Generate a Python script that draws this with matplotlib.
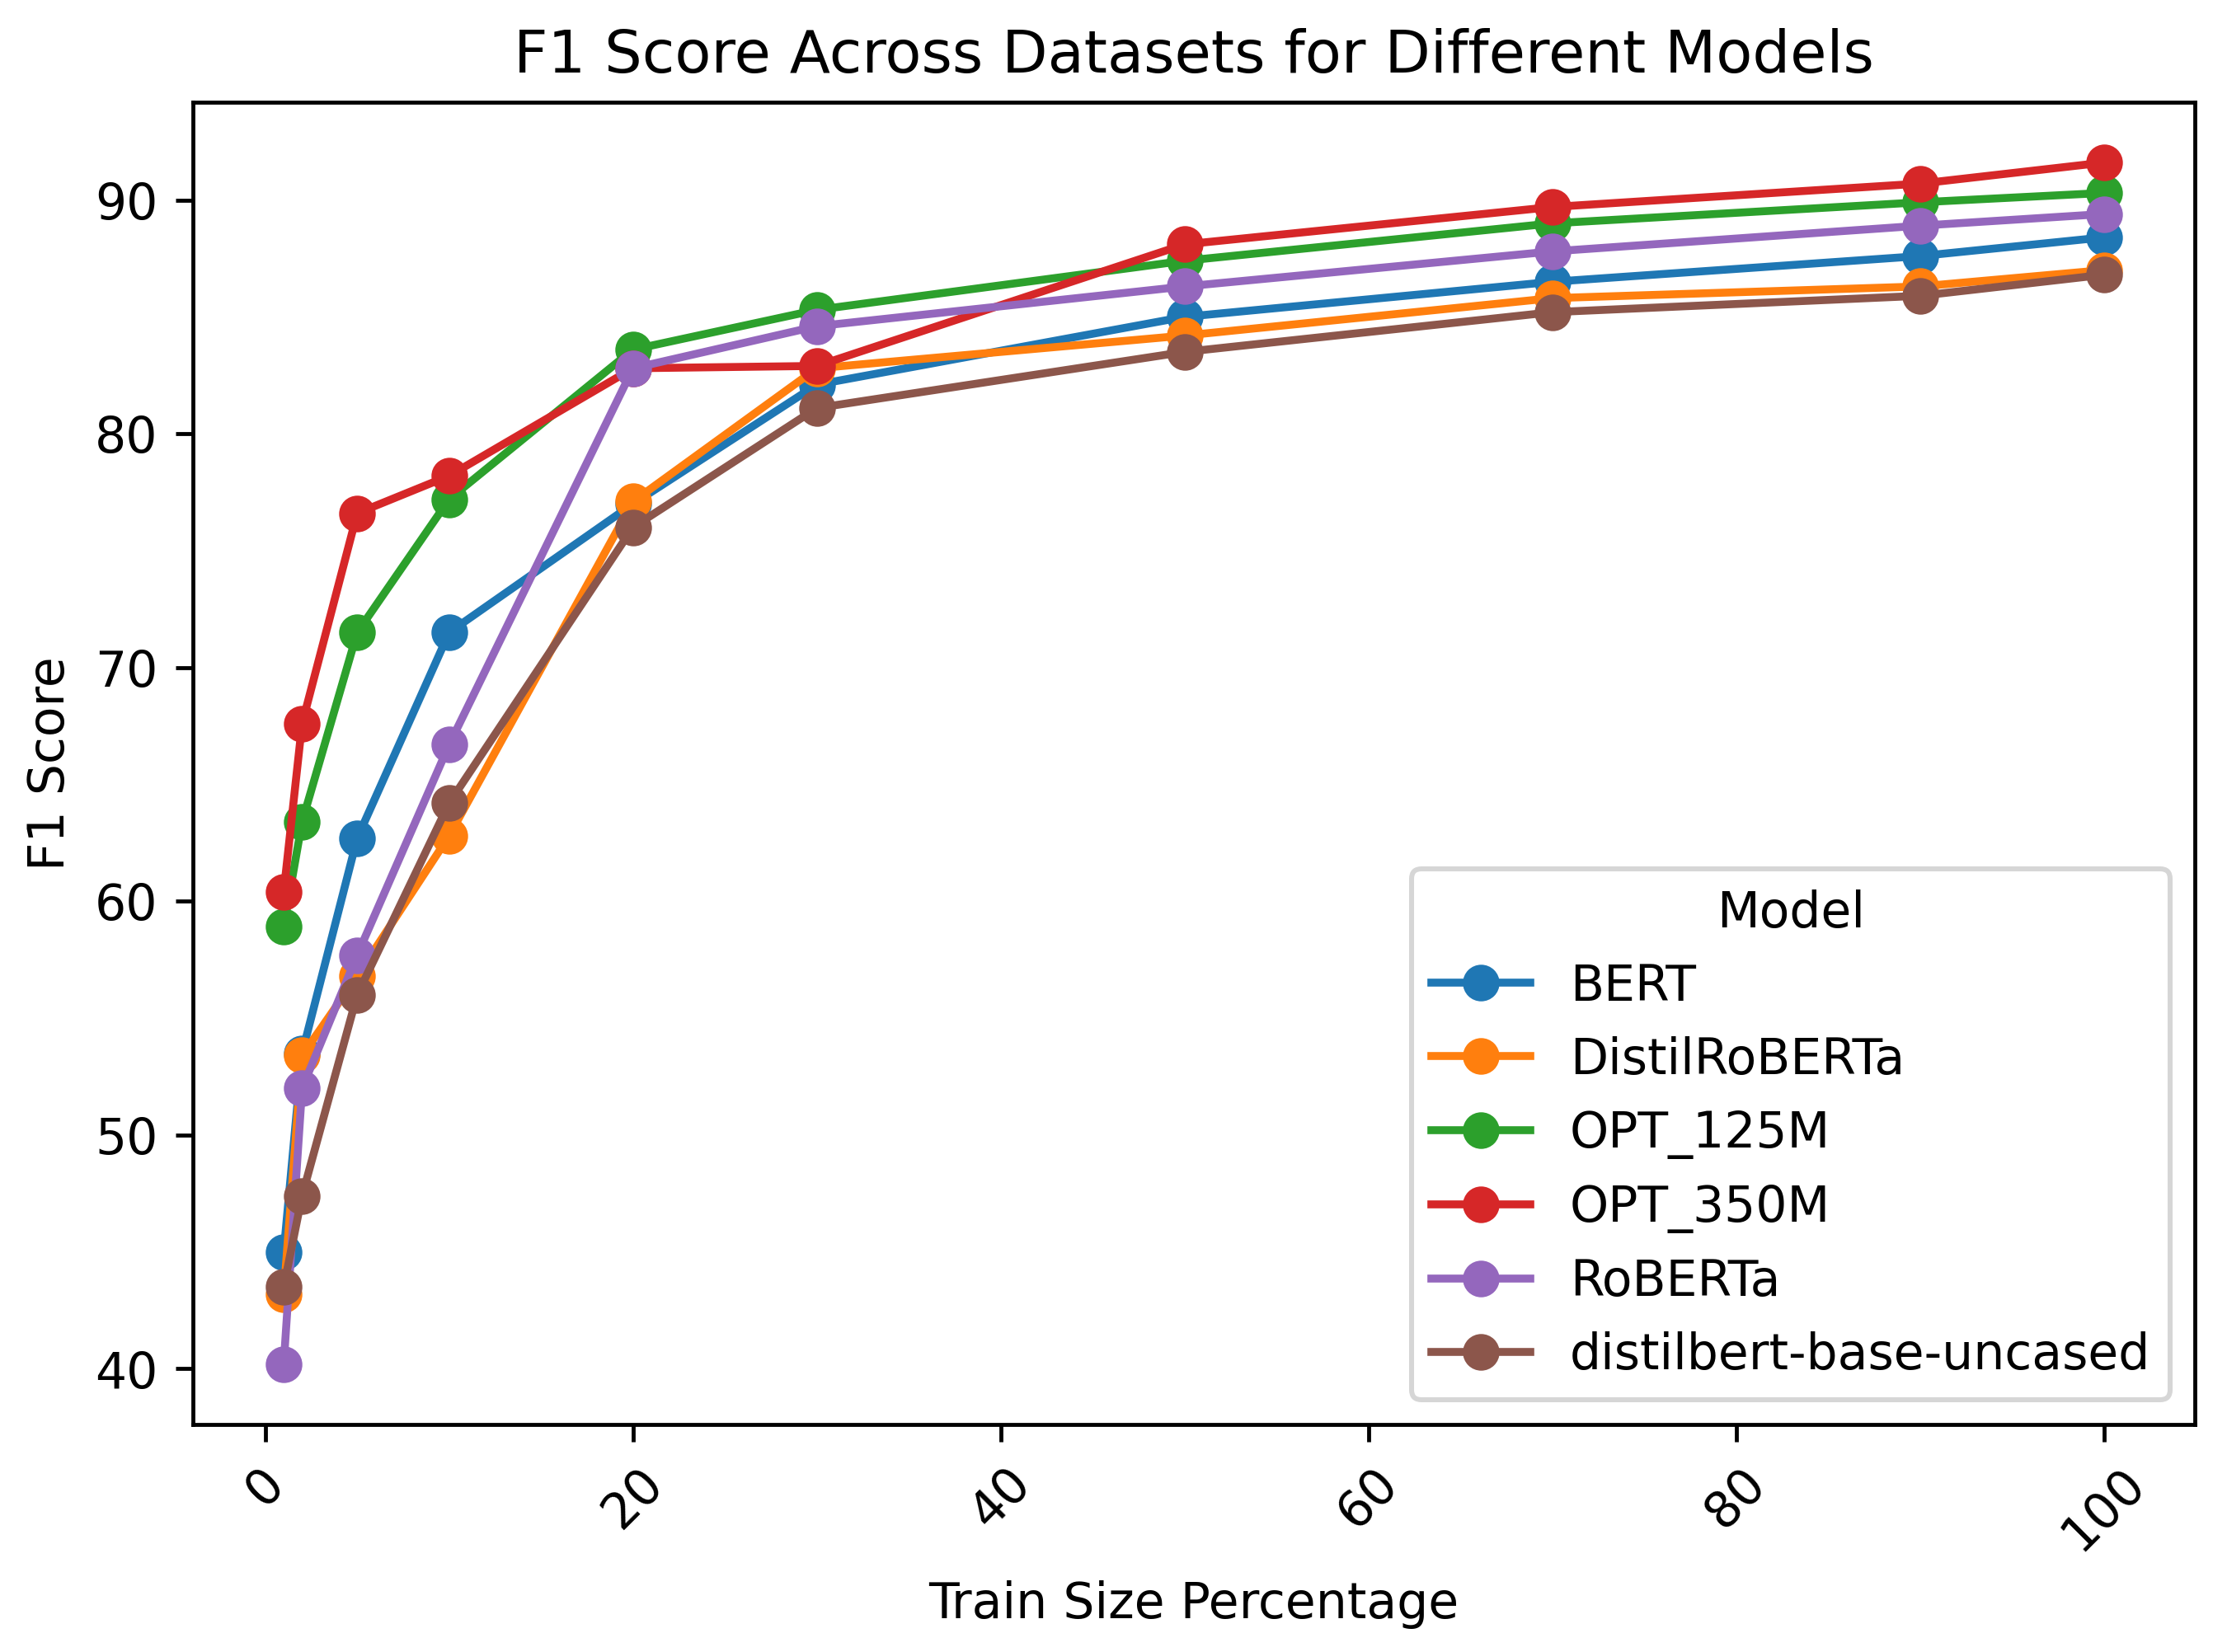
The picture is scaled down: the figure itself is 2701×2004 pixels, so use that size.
import matplotlib
matplotlib.use("Agg")
import matplotlib.pyplot as plt

train_sizes = [1, 2, 5, 10, 20, 30, 50, 70, 90, 100]
models = ["BERT", "DistilRoBERTa", "OPT_125M", "OPT_350M", "RoBERTa", "distilbert-base-uncased"]
bert = [45.0, 53.5, 62.7, 71.5, 77.0, 82.1, 85.0, 86.5, 87.6, 88.4]
distilroberta = [43.2, 53.4, 56.8, 62.8, 77.1, 82.8, 84.2, 85.8, 86.3, 87.0]
opt_125m = [58.9, 63.4, 71.5, 77.2, 83.6, 85.3, 87.4, 89.0, 89.9, 90.3]
opt_350m = [60.4, 67.6, 76.6, 78.2, 82.8, 82.9, 88.1, 89.7, 90.7, 91.6]
roberta = [40.2, 52.0, 57.7, 66.7, 82.8, 84.6, 86.3, 87.8, 88.9, 89.4]
distilbert = [43.5, 47.4, 56.0, 64.2, 76.0, 81.1, 83.5, 85.2, 85.9, 86.8]
series = [bert, distilroberta, opt_125m, opt_350m, roberta, distilbert]

fig, ax = plt.subplots(figsize=(6.25, 4.636), dpi=432.3)
for name, vals in zip(models, series):
    ax.plot(train_sizes, vals, marker="o", label=name, linewidth=1.6, markersize=6.4)

ax.set_title("F1 Score Across Datasets for Different Models")
ax.set_xlabel("Train Size Percentage")
ax.set_ylabel("F1 Score")
ax.set_yticks([40, 50, 60, 70, 80, 90])
plt.setp(ax.get_xticklabels(), rotation=45)
ax.legend(title="Model", loc="lower right")
fig.subplots_adjust(left=0.0865, right=0.9853, top=0.9379, bottom=0.1379)
fig.savefig("out.png", dpi=432.3)
